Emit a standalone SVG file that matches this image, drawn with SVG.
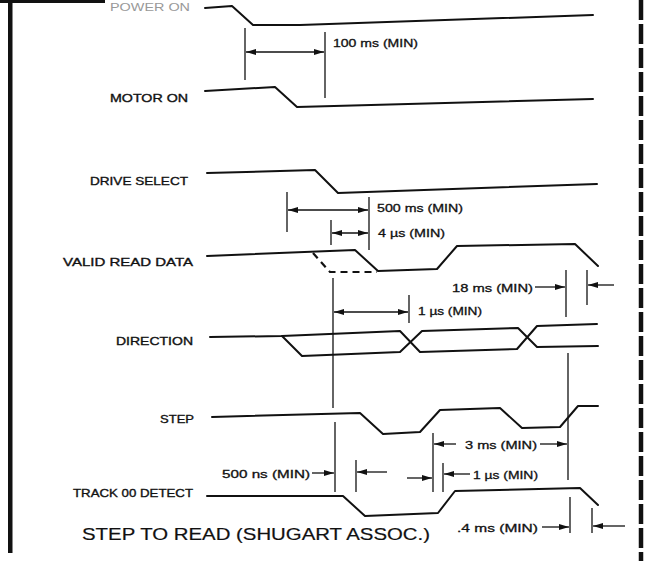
<svg xmlns="http://www.w3.org/2000/svg" width="646" height="561" viewBox="0 0 646 561">
<style>
.w{fill:none;stroke:#111;stroke-width:2;stroke-linejoin:round;stroke-linecap:round}
.d{fill:none;stroke:#111;stroke-width:2.2;stroke-dasharray:7 5}
.t{fill:none;stroke:#111;stroke-width:1.3}
.a{fill:none;stroke:#111;stroke-width:1.3;marker-end:url(#ah)}
.aa{fill:none;stroke:#111;stroke-width:1.3;marker-start:url(#ah);marker-end:url(#ah)}
.lb{font-family:"Liberation Sans",Arial,sans-serif;font-size:11px;fill:#111;stroke:#111;stroke-width:0.35}
.v{font-family:"Liberation Sans",Arial,sans-serif;font-size:11px;fill:#111;stroke:#111;stroke-width:0.3}
.ti{font-family:"Liberation Sans",Arial,sans-serif;font-size:17px;fill:#111;stroke:#111;stroke-width:0.2}
</style>
<defs>
<marker id="ah" viewBox="0 0 10 6" refX="10" refY="3" markerWidth="10" markerHeight="6" markerUnits="userSpaceOnUse" orient="auto-start-reverse"><path d="M0,0 L10,3 L0,6 z" fill="#111"/></marker>
</defs>
<rect width="646" height="561" fill="#fff"/>
<g id="border">
<rect x="8" y="0" width="4.5" height="553" fill="#111"/>
<rect x="0" y="0" width="105" height="3" fill="#111"/>
<line x1="641" y1="0" x2="641" y2="561" stroke="#111" stroke-width="4.5" stroke-dasharray="20 4"/>
</g>
<g id="power-on">
<text class="lb" x="110" y="11" textLength="80" lengthAdjust="spacingAndGlyphs" style="fill:#999;stroke:none">POWER ON</text>
<polyline class="w" points="205,8 232,6 253,25 300,25 593,15"/>
</g>
<g id="motor-on">
<text class="lb" x="110" y="102" textLength="78" lengthAdjust="spacingAndGlyphs">MOTOR ON</text>
<polyline class="w" points="205,91 275,87 297,107 593,99"/>
</g>
<g id="drive-select">
<text class="lb" x="90" y="185" textLength="98" lengthAdjust="spacingAndGlyphs">DRIVE SELECT</text>
<polyline class="w" points="207,173 315,170 338,193 597,184"/>
</g>
<g id="valid-read-data">
<text class="lb" x="63" y="266" textLength="130" lengthAdjust="spacingAndGlyphs">VALID READ DATA</text>
<polyline class="w" points="207,256 355,250 378,271 437,269 457,246 575,244 598,266"/>
<polyline class="d" points="313,253 330,272 377,272"/>
</g>
<g id="direction">
<text class="lb" x="116" y="345" textLength="77" lengthAdjust="spacingAndGlyphs">DIRECTION</text>
<polyline class="w" points="210,337 282,336 400,331 420,352 517,349 537,326 597,324"/>
<polyline class="w" points="282,336 302,356 400,352 422,331 518,328 537,347 598,346"/>
</g>
<g id="step">
<text class="lb" x="160" y="423" textLength="34" lengthAdjust="spacingAndGlyphs">STEP</text>
<polyline class="w" points="212,417 360,413 383,434 420,432 440,410 500,408 522,428 560,427 578,406 598,406"/>
</g>
<g id="track00-detect">
<text class="lb" x="73" y="497" textLength="120" lengthAdjust="spacingAndGlyphs">TRACK 00 DETECT</text>
<polyline class="w" points="207,496 343,496 365,516 438,513 455,491 580,488 598,505"/>
</g>
<g id="connectors">
<line class="t" x1="245" y1="28" x2="245" y2="80"/>
<line class="t" x1="325" y1="32" x2="325" y2="98"/>
<line class="aa" x1="246" y1="52" x2="324" y2="52"/>
<line class="t" x1="287" y1="192" x2="287" y2="232"/>
<line class="t" x1="369" y1="197" x2="369" y2="250"/>
<line class="aa" x1="288" y1="210" x2="368" y2="210"/>
<line class="t" x1="331" y1="220" x2="331" y2="245"/>
<line class="aa" x1="332" y1="233" x2="368" y2="233"/>
<line class="t" x1="566" y1="270" x2="566" y2="317"/>
<line class="t" x1="587" y1="270" x2="587" y2="305"/>
<line class="a" x1="535" y1="287" x2="565" y2="287"/>
<line class="a" x1="614" y1="285" x2="588" y2="285"/>
<line class="t" x1="333" y1="278" x2="333" y2="408"/>
<line class="t" x1="335" y1="422" x2="335" y2="492"/>
<line class="t" x1="409" y1="295" x2="409" y2="323"/>
<line class="aa" x1="334" y1="312" x2="408" y2="312"/>
<line class="t" x1="568" y1="353" x2="568" y2="480"/>
<line class="t" x1="433" y1="433" x2="433" y2="492"/>
<line class="a" x1="456" y1="444" x2="434" y2="444"/>
<line class="a" x1="540" y1="444" x2="567" y2="444"/>
<line class="a" x1="312" y1="473" x2="334" y2="473"/>
<line class="t" x1="356" y1="460" x2="356" y2="492"/>
<line class="a" x1="387" y1="472" x2="357" y2="472"/>
<line class="a" x1="407" y1="478" x2="432" y2="478"/>
<line class="t" x1="443" y1="463" x2="443" y2="492"/>
<line class="a" x1="470" y1="474" x2="444" y2="474"/>
<line class="t" x1="570" y1="497" x2="570" y2="533"/>
<line class="t" x1="592" y1="508" x2="592" y2="533"/>
<line class="a" x1="542" y1="527" x2="569" y2="527"/>
<line class="a" x1="625" y1="526" x2="593" y2="526"/>
</g>
<g id="labels">
<text class="v" x="333" y="47" textLength="85" lengthAdjust="spacingAndGlyphs">100 ms (MIN)</text>
<text class="v" x="377" y="212" textLength="86" lengthAdjust="spacingAndGlyphs">500 ms (MIN)</text>
<text class="v" x="378" y="237" textLength="67" lengthAdjust="spacingAndGlyphs">4 µs (MIN)</text>
<text class="v" x="452" y="292" textLength="81" lengthAdjust="spacingAndGlyphs">18 ms (MIN)</text>
<text class="v" x="418" y="315" textLength="64" lengthAdjust="spacingAndGlyphs">1 µs (MIN)</text>
<text class="v" x="465" y="449" textLength="72" lengthAdjust="spacingAndGlyphs">3 ms (MIN)</text>
<text class="v" x="222" y="478" textLength="88" lengthAdjust="spacingAndGlyphs">500 ns (MIN)</text>
<text class="v" x="473" y="479" textLength="65" lengthAdjust="spacingAndGlyphs">1 µs (MIN)</text>
<text class="v" x="457" y="532" textLength="81" lengthAdjust="spacingAndGlyphs">.4 ms (MIN)</text>
<text class="ti" x="82" y="540" textLength="348" lengthAdjust="spacingAndGlyphs">STEP TO READ (SHUGART ASSOC.)</text>
</g>
</svg>
